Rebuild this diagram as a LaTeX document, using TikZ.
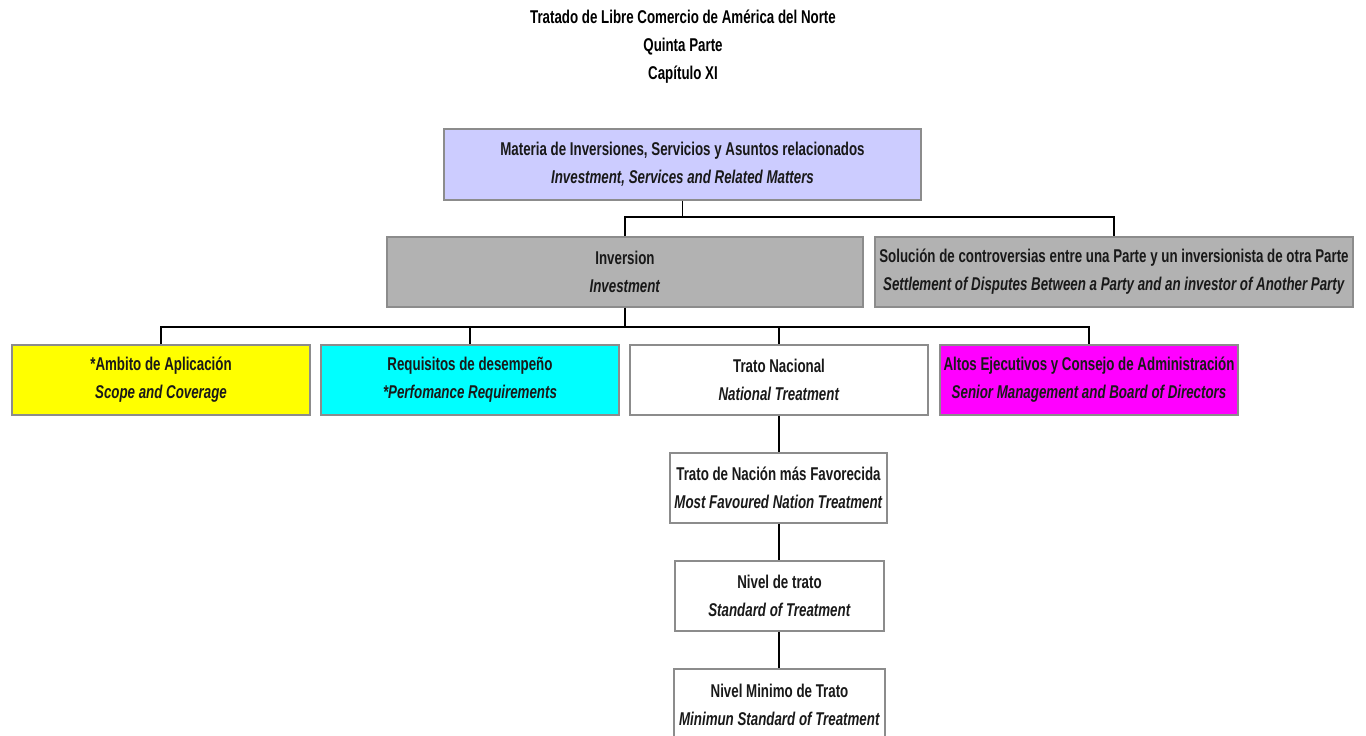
\documentclass[tikz,border=0pt]{standalone}
\usepackage{fontspec}
\setmainfont{Liberation Sans}[FakeStretch=0.72]
\begin{document}
\begin{tikzpicture}[x=1pt,y=-1pt,
  box/.style={draw=boxedge,line width=1.3pt,rectangle,inner sep=0pt,
    align=center,font=\fontsize{18.5}{28}\selectfont\bfseries,text=black!90},
  link/.style={draw=black,line width=1.2pt},
  heading/.style={align=center,font=\fontsize{18.5}{28}\selectfont\bfseries,inner sep=0pt}]
\definecolor{boxedge}{HTML}{8C8C8C}
\definecolor{lavender}{HTML}{CCCCFF}
\definecolor{midgray}{HTML}{B2B2B2}
\definecolor{yellowfill}{HTML}{FFFF00}
\definecolor{cyanfill}{HTML}{00FFFF}
\definecolor{magentafill}{HTML}{FF00FF}
\useasboundingbox (0,0) rectangle (1366,736);
\clip (0,0) rectangle (1366,736);
\fill[white] (0,0) rectangle (1366,736);

% title block
\node[heading] (title) at (683,47) {Tratado de Libre Comercio de América del Norte\\Quinta Parte\\Capítulo XI};

% level 1
\node[box,fill=lavender,minimum width=477pt,minimum height=71pt] (top) at (682.5,164.5)
  {Materia de Inversiones, Servicios y Asuntos relacionados\\\textit{Investment, Services and Related Matters}};

% level 2
\node[box,fill=midgray,minimum width=476pt,minimum height=70pt] (inv) at (625,272)
  {Inversion\\\textit{Investment}};
\node[box,fill=midgray,minimum width=478pt,minimum height=70pt] (sol) at (1114,272)
  {Solución de controversias entre una Parte y un inversionista de otra Parte\\\textit{Settlement of Disputes Between a Party and an investor of Another Party}};

% level 3
\node[box,fill=yellowfill,minimum width=298pt,minimum height=70pt] (amb) at (161,380)
  {*Ambito de Aplicación\\\textit{Scope and Coverage}};
\node[box,fill=cyanfill,minimum width=298pt,minimum height=70pt] (req) at (470,380)
  {Requisitos de desempeño\\\textit{*Perfomance Requirements}};
\node[box,fill=white,minimum width=298pt,minimum height=70pt] (nat) at (779,380)
  {Trato Nacional\\\textit{National Treatment}};
\node[box,fill=magentafill,minimum width=298pt,minimum height=70pt] (alt) at (1089,380)
  {Altos Ejecutivos y Consejo de Administración\\\textit{Senior Management and Board of Directors}};

% chain below national treatment
\node[box,fill=white,minimum width=217pt,minimum height=70pt] (mfn) at (778.5,488)
  {Trato de Nación más Favorecida\\\textit{Most Favoured Nation Treatment}};
\node[box,fill=white,minimum width=209pt,minimum height=70pt] (std) at (779.5,596)
  {Nivel de trato\\\textit{Standard of Treatment}};
\node[box,fill=white,minimum width=211pt,minimum height=72pt] (min) at (779.5,705)
  {Nivel Minimo de Trato\\\textit{Minimun Standard of Treatment}};

% connectors
\coordinate (busA) at (682.5,217);
\draw[link] (top.south) -- (busA);
\draw[link] (inv.north) -- (inv.north |- busA) -- (sol.north |- busA) -- (sol.north);

\coordinate (busB) at (625,327);
\draw[link] (inv.south) -- (busB);
\draw[link] (amb.north) -- (amb.north |- busB) -- (alt.north |- busB) -- (alt.north);
\draw[link] (req.north |- busB) -- (req.north);
\draw[link] (nat.north |- busB) -- (nat.north);

\draw[link] (nat.south) -- (nat.south |- mfn.north);
\draw[link] (nat.south |- mfn.south) -- (nat.south |- std.north);
\draw[link] (nat.south |- std.south) -- (nat.south |- min.north);
\end{tikzpicture}
\end{document}
